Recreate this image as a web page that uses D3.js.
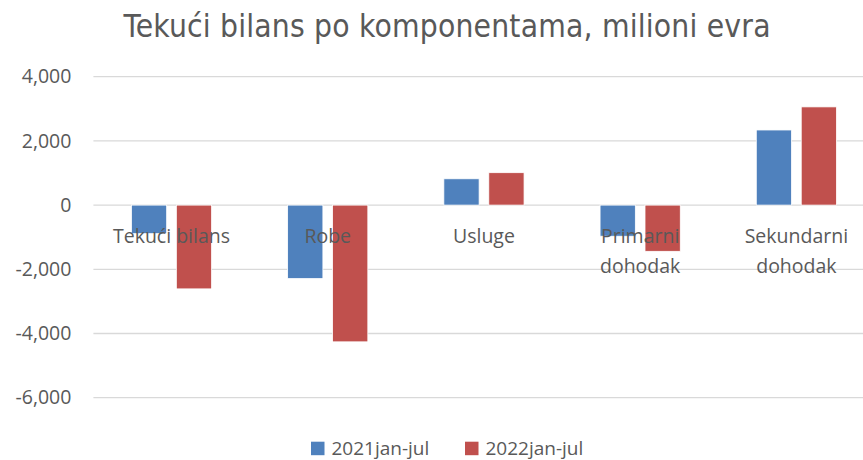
<!DOCTYPE html>
<html>
<head>
<meta charset="utf-8">
<script src="https://cdn.jsdelivr.net/npm/d3@7"></script>
<style>
  body { margin: 0; background: #fff; }
  svg { display: block; }
</style>
</head>
<body>
<div id="chart"></div>
<script>
const categories = ['Tekući bilans', 'Robe', 'Usluge', 'Primarni dohodak', 'Sekundarni dohodak'];
const seriesNames = ['2021jan-jul', '2022jan-jul'];
const values2021 = [-890, -2290, 820, -970, 2340];
const values2022 = [-2610, -4260, 1010, -1440, 3060];
const yTicks = [4000, 2000, 0, -2000, -4000, -6000];

const colors = ['#4F81BD', '#C0504D'];
const textColor = '#595959';

const svgWidth = 863;
const svgHeight = 460;

// plot area (right edge runs past the picture, as in the original)
const plot = { left: 93.4, right: 874.5, top: 76.7, bottom: 397.7 };

const svg = d3.select('#chart').append('svg')
  .attr('width', svgWidth)
  .attr('height', svgHeight);

const rows = categories.map((c, i) => ({ cat: c, vals: [values2021[i], values2022[i]] }));

const x = d3.scaleBand()
  .domain(categories)
  .range([plot.left, plot.right]);

const x1 = d3.scaleBand()
  .domain(seriesNames)
  .range([38, x.bandwidth() - 38])
  .paddingInner(0.215);

const y = d3.scaleLinear()
  .domain([-6000, 4000])
  .range([plot.bottom, plot.top]);

// excel style numbers with a plain hyphen
const fmt = d => d3.format(',')(d).replace('\u2212', '-');

// gridlines
svg.append('g')
  .selectAll('line')
  .data(yTicks)
  .join('line')
  .attr('x1', plot.left)
  .attr('x2', plot.right)
  .attr('y1', d => y(d))
  .attr('y2', d => y(d))
  .attr('stroke', '#d9d9d9')
  .attr('stroke-width', 1.3);

// y axis labels
const yAxis = svg.append('g')
  .attr('transform', `translate(${plot.left - 22},0)`)
  .call(d3.axisLeft(y).tickValues(yTicks).tickSize(0).tickPadding(0).tickFormat(fmt));
yAxis.select('.domain').remove();
yAxis.selectAll('text')
  .attr('fill', textColor)
  .style('font-family', '"Open Sans", sans-serif')
  .style('font-size', '19.5px');

// bars
const groups = svg.append('g')
  .selectAll('g')
  .data(rows)
  .join('g')
  .attr('transform', d => `translate(${x(d.cat)},0)`);

groups.selectAll('rect')
  .data(d => d.vals.map((v, i) => ({ name: seriesNames[i], v, i })))
  .join('rect')
  .attr('x', d => x1(d.name))
  .attr('width', x1.bandwidth())
  .attr('y', d => y(Math.max(0, d.v)))
  .attr('height', d => Math.abs(y(d.v) - y(0)))
  .attr('fill', d => colors[d.i])
  .attr('stroke', '#fff')
  .attr('stroke-width', 0.8);

// category labels (sit on top of the bars, next to the zero line)
const xAxis = svg.append('g')
  .attr('transform', `translate(0,${y(0)})`)
  .call(d3.axisBottom(x).tickSize(0).tickPadding(0));
xAxis.select('.domain').remove();
xAxis.selectAll('text')
  .attr('fill', textColor)
  .style('font-family', '"Open Sans", sans-serif')
  .style('font-size', '19.5px')
  .attr('y', 0)
  .attr('dy', null)
  .each(function(d) {
    const t = d3.select(this);
    const words = d.split(' ');
    t.text(null);
    const tmp = t.append('tspan').text(d);
    const fits = tmp.node().getComputedTextLength() < 140;
    tmp.remove();
    const lines = fits ? [d] : words;
    lines.forEach((w, k) => {
      t.append('tspan')
        .attr('x', 0)
        .attr('y', 38 + k * 30)
        .text(w);
    });
  });

// title
svg.append('text')
  .attr('x', 447)
  .attr('y', 36.5)
  .attr('text-anchor', 'middle')
  .attr('fill', textColor)
  .attr('textLength', 647)
  .attr('lengthAdjust', 'spacing')
  .style('font-family', '"DejaVu Sans", sans-serif')
  .style('font-stretch', 'condensed')
  .style('font-size', '31.5px')
  .text('Tekući bilans po komponentama, milioni evra');

// legend
const legend = svg.append('g')
  .selectAll('g')
  .data(seriesNames)
  .join('g')
  .attr('transform', (d, i) => `translate(${311 + i * 154},441.7)`);

legend.append('rect')
  .attr('width', 13.5)
  .attr('height', 13.5)
  .attr('fill', (d, i) => colors[i]);

legend.append('text')
  .attr('x', 20.5)
  .attr('y', 13)
  .attr('fill', textColor)
  .style('font-family', '"Open Sans", sans-serif')
  .style('font-size', '19px')
  .text(d => d);
</script>
</body>
</html>
